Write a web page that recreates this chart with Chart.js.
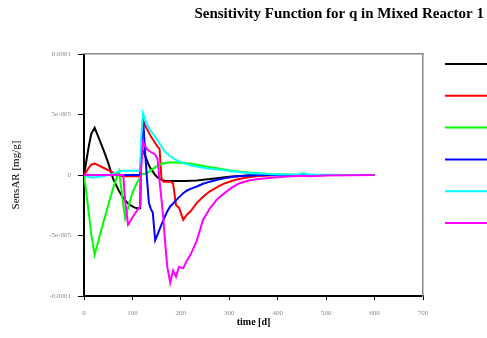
<!DOCTYPE html>
<html>
<head>
<meta charset="utf-8">
<script src="https://cdn.jsdelivr.net/npm/chart.js@4.4.1/dist/chart.umd.min.js"></script>
<style>
html, body { margin: 0; padding: 0; background: #fff; overflow: hidden; }
</style>
</head>
<body>
<canvas id="chart" width="487" height="338"></canvas>
<script>
// time [d]
const time = [0, 5, 10, 15, 22, 30, 40, 50, 60, 66,
    72, 78, 81, 85, 91, 96, 100, 105, 110, 116,
    118, 122, 126, 130, 134, 138, 142, 147, 152, 156,
    160, 164, 168, 172, 178, 184, 190, 196, 205, 212,
    220, 233, 246, 260, 275, 290, 305, 320, 340, 360,
    380, 400, 420, 440, 453, 465, 480, 500, 550, 600];

// SensAR [mg/g], one array per curve
const sensBlack = [0, 1.2e-5, 2.4e-5, 3.4e-5, 3.9e-5, 3.1e-5, 2.1e-5, 1.0e-5, -0.3e-5, -0.8e-5,
    -1.3e-5, -1.7e-5, -1.9e-5, -2.1e-5, -2.35e-5, -2.5e-5, -2.6e-5, -2.7e-5, -2.75e-5, -2.75e-5,
    2.0e-5, 2.0e-5, 1.6e-5, 1.2e-5, 0.8e-5, 0.5e-5, 0.3e-5, 0, -0.2e-5, -0.3e-5,
    -0.4e-5, -0.45e-5, -0.5e-5, -0.5e-5, -0.5e-5, -0.5e-5, -0.5e-5, -0.5e-5, -0.5e-5, -0.5e-5,
    -0.48e-5, -0.45e-5, -0.4e-5, -0.34e-5, -0.26e-5, -0.18e-5, -0.12e-5, -0.08e-5, -0.04e-5, -0.02e-5,
    -0.01e-5, 0, 0, 0, 0, 0, 0, 0, 0, 0];

const sensRed = [0, 0.3e-5, 0.6e-5, 0.85e-5, 0.95e-5, 0.8e-5, 0.6e-5, 0.4e-5, 0.2e-5, 0.1e-5,
    0, -0.1e-5, -0.1e-5, -0.1e-5, -0.1e-5, -0.1e-5, -0.1e-5, -0.1e-5, -0.1e-5, -0.1e-5,
    1.5e-5, 4.5e-5, 4.1e-5, 3.8e-5, 3.5e-5, 3.2e-5, 2.95e-5, 2.65e-5, 2.35e-5, 2.15e-5,
    -0.3e-5, -0.55e-5, -0.55e-5, -0.55e-5, -0.55e-5, -0.7e-5, -2.5e-5, -2.7e-5, -3.7e-5, -3.3e-5,
    -3.0e-5, -2.3e-5, -1.8e-5, -1.35e-5, -1.0e-5, -0.7e-5, -0.5e-5, -0.33e-5, -0.18e-5, -0.09e-5,
    -0.05e-5, -0.02e-5, -0.01e-5, 0, 0, 0, 0, 0, 0, 0];

const sensGreen = [0, -1.5e-5, -3.2e-5, -4.9e-5, -6.6e-5, -5.4e-5, -3.9e-5, -2.5e-5, -1.1e-5, -0.4e-5,
    0.3e-5, -1.4e-5, -2.5e-5, -3.6e-5, -2.7e-5, -2.0e-5, -1.5e-5, -1.0e-5, -0.6e-5, -0.2e-5,
    0, 0.1e-5, 0.1e-5, 0.15e-5, 0.25e-5, 0.4e-5, 0.5e-5, 0.65e-5, 0.75e-5, 0.85e-5,
    0.92e-5, 0.97e-5, 1.0e-5, 1.02e-5, 1.03e-5, 1.03e-5, 1.03e-5, 1.02e-5, 1.0e-5, 0.97e-5,
    0.93e-5, 0.85e-5, 0.75e-5, 0.65e-5, 0.55e-5, 0.45e-5, 0.36e-5, 0.28e-5, 0.2e-5, 0.14e-5,
    0.09e-5, 0.06e-5, 0.04e-5, 0.02e-5, 0.15e-5, 0.02e-5, 0.01e-5, 0, 0, 0];

const sensBlue = [0, 0, 0, 0, 0, 0, 0, 0, 0, 0,
    0, 0, 0, 0, 0, 0, 0, 0, 0, 0,
    2.0e-5, 4.7e-5, 2.0e-5, -0.3e-5, -2.3e-5, -2.8e-5, -3.1e-5, -5.4e-5, -4.9e-5, -4.5e-5,
    -4.1e-5, -3.7e-5, -3.35e-5, -3.0e-5, -2.6e-5, -2.35e-5, -2.1e-5, -1.85e-5, -1.5e-5, -1.3e-5,
    -1.15e-5, -0.95e-5, -0.72e-5, -0.55e-5, -0.4e-5, -0.28e-5, -0.17e-5, -0.1e-5, -0.05e-5, -0.02e-5,
    -0.01e-5, 0, 0, 0, 0, 0, 0, 0, 0, 0];

const sensCyan = [0, -0.1e-5, -0.15e-5, -0.2e-5, -0.2e-5, -0.15e-5, -0.1e-5, 0, 0.1e-5, 0.2e-5,
    0.3e-5, 0.35e-5, 0.35e-5, 0.35e-5, 0.35e-5, 0.35e-5, 0.35e-5, 0.35e-5, 0.35e-5, 0.35e-5,
    3.0e-5, 5.1e-5, 4.6e-5, 4.2e-5, 3.9e-5, 3.65e-5, 3.45e-5, 3.15e-5, 2.85e-5, 2.6e-5,
    2.35e-5, 2.1e-5, 1.9e-5, 1.75e-5, 1.55e-5, 1.4e-5, 1.25e-5, 1.15e-5, 1.0e-5, 0.9e-5,
    0.8e-5, 0.7e-5, 0.6e-5, 0.52e-5, 0.46e-5, 0.4e-5, 0.3e-5, 0.24e-5, 0.17e-5, 0.12e-5,
    0.08e-5, 0.05e-5, 0.04e-5, 0.03e-5, 0.12e-5, 0.04e-5, 0.03e-5, 0.02e-5, 0.01e-5, 0.01e-5];

const sensMagenta = [0, 0, 0, 0, 0, 0, 0, 0, 0, 0,
    0, 0, 0, -2.2e-5, -4.1e-5, -3.8e-5, -3.5e-5, -3.2e-5, -2.9e-5, -2.6e-5,
    0.5e-5, 2.7e-5, 2.4e-5, 2.15e-5, 2.0e-5, 1.9e-5, 1.8e-5, 1.7e-5, 1.3e-5, -0.5e-5,
    -2.0e-5, -3.7e-5, -5.8e-5, -7.6e-5, -8.9e-5, -7.9e-5, -8.4e-5, -7.6e-5, -7.7e-5, -7.1e-5,
    -6.6e-5, -5.4e-5, -3.7e-5, -2.75e-5, -2.0e-5, -1.5e-5, -1.05e-5, -0.7e-5, -0.45e-5, -0.33e-5,
    -0.25e-5, -0.18e-5, -0.12e-5, -0.08e-5, -0.06e-5, -0.1e-5, -0.08e-5, -0.05e-5, -0.02e-5, 0];

const seriesList = [sensBlack, sensRed, sensGreen, sensBlue, sensCyan, sensMagenta];
const seriesNames = ["Black", "Red", "Green", "Blue", "Cyan", "Magenta"];
const seriesColors = ["#000000", "#ff0000", "#00ff00", "#0000ff", "#00ffff", "#ff00ff"];

const xTickValues = [0, 100, 200, 300, 400, 500, 600, 700];
const yTickValues = [-0.0001, -0.00005, 0, 0.00005, 0.0001];
const yTickLabels = ["-0.0001", "-5e-005", "0", "5e-005", "0.0001"];

const serif = "'Liberation Serif', 'Times New Roman', serif";

// little line samples to the right of the plot (labels fall off the page)
const legendLines = {
    id: "legendLines",
    afterDraw(chart) {
        const ctx = chart.ctx;
        const area = chart.chartArea;
        chart.data.datasets.forEach(function (ds, i) {
            const y = area.top + 10 + i * 31.8;
            ctx.save();
            ctx.strokeStyle = ds.borderColor;
            ctx.lineWidth = 2;
            ctx.beginPath();
            ctx.moveTo(area.right + 22, y);
            ctx.lineTo(chart.width, y);
            ctx.stroke();
            ctx.restore();
        });
    }
};

new Chart(document.getElementById("chart"), {
    type: "line",
    data: {
        datasets: seriesList.map(function (vals, i) {
            return {
                label: seriesNames[i],
                data: time.map(function (t, k) { return { x: t, y: vals[k] }; }),
                borderColor: seriesColors[i],
                backgroundColor: seriesColors[i],
                borderWidth: 2,
                pointRadius: 0,
                tension: 0,
                fill: false,
                order: 6 - i
            };
        })
    },
    options: {
        responsive: false,
        animation: false,
        layout: { padding: { left: 0, right: 3, top: 0, bottom: 0 } },
        plugins: {
            legend: { display: false },
            tooltip: { enabled: false },
            title: {
                display: true,
                text: "Sensitivity Function for q in Mixed Reactor 1",
                align: "end",
                color: "#000",
                font: { family: serif, size: 15, weight: "bold" },
                padding: { top: 5, bottom: 31 }
            }
        },
        scales: {
            x: {
                type: "linear",
                position: "bottom",
                min: 0,
                max: 700,
                afterFit: function (s) { s.height = 42; },
                afterBuildTicks: function (s) { s.ticks = xTickValues.map(function (v) { return { value: v }; }); },
                ticks: { color: "#888", font: { family: serif, size: 7 }, padding: 9, maxRotation: 0 },
                grid: { drawOnChartArea: false, tickLength: 4, tickColor: "#000", tickWidth: 1 },
                border: { color: "#000", width: 2 },
                title: {
                    display: true,
                    text: "time [d]",
                    color: "#000",
                    font: { family: serif, size: 10, weight: "bold" },
                    padding: { top: 0, bottom: 10 }
                }
            },
            y: {
                type: "linear",
                position: "left",
                min: -0.0001,
                max: 0.0001,
                afterFit: function (s) { s.width = 84; },
                afterBuildTicks: function (s) { s.ticks = yTickValues.map(function (v) { return { value: v }; }); },
                ticks: {
                    color: "#888",
                    font: { family: serif, size: 7 },
                    padding: 7,
                    callback: function (v) {
                        const i = yTickValues.findIndex(function (t) { return Math.abs(t - v) < 1e-9; });
                        return i >= 0 ? yTickLabels[i] : "";
                    }
                },
                grid: { drawOnChartArea: false, tickLength: 6, tickColor: "#000", tickWidth: 1 },
                border: { color: "#000", width: 2 },
                title: {
                    display: true,
                    text: "SensAR [mg/g]",
                    color: "#000",
                    font: { family: serif, size: 11 },
                    padding: { top: 10, bottom: 0 }
                }
            },
            xTop: {
                type: "linear",
                position: "top",
                min: 0,
                max: 700,
                afterFit: function (s) { s.height = 0; },
                ticks: { display: false },
                grid: { display: false, drawTicks: false },
                border: { color: "#888", width: 1.5 }
            },
            yRight: {
                type: "linear",
                position: "right",
                min: -0.0001,
                max: 0.0001,
                afterFit: function (s) { s.width = 61; },
                ticks: { display: false },
                grid: { display: false, drawTicks: false },
                border: { color: "#888", width: 1.5 }
            }
        }
    },
    plugins: [legendLines]
});
</script>
</body>
</html>
